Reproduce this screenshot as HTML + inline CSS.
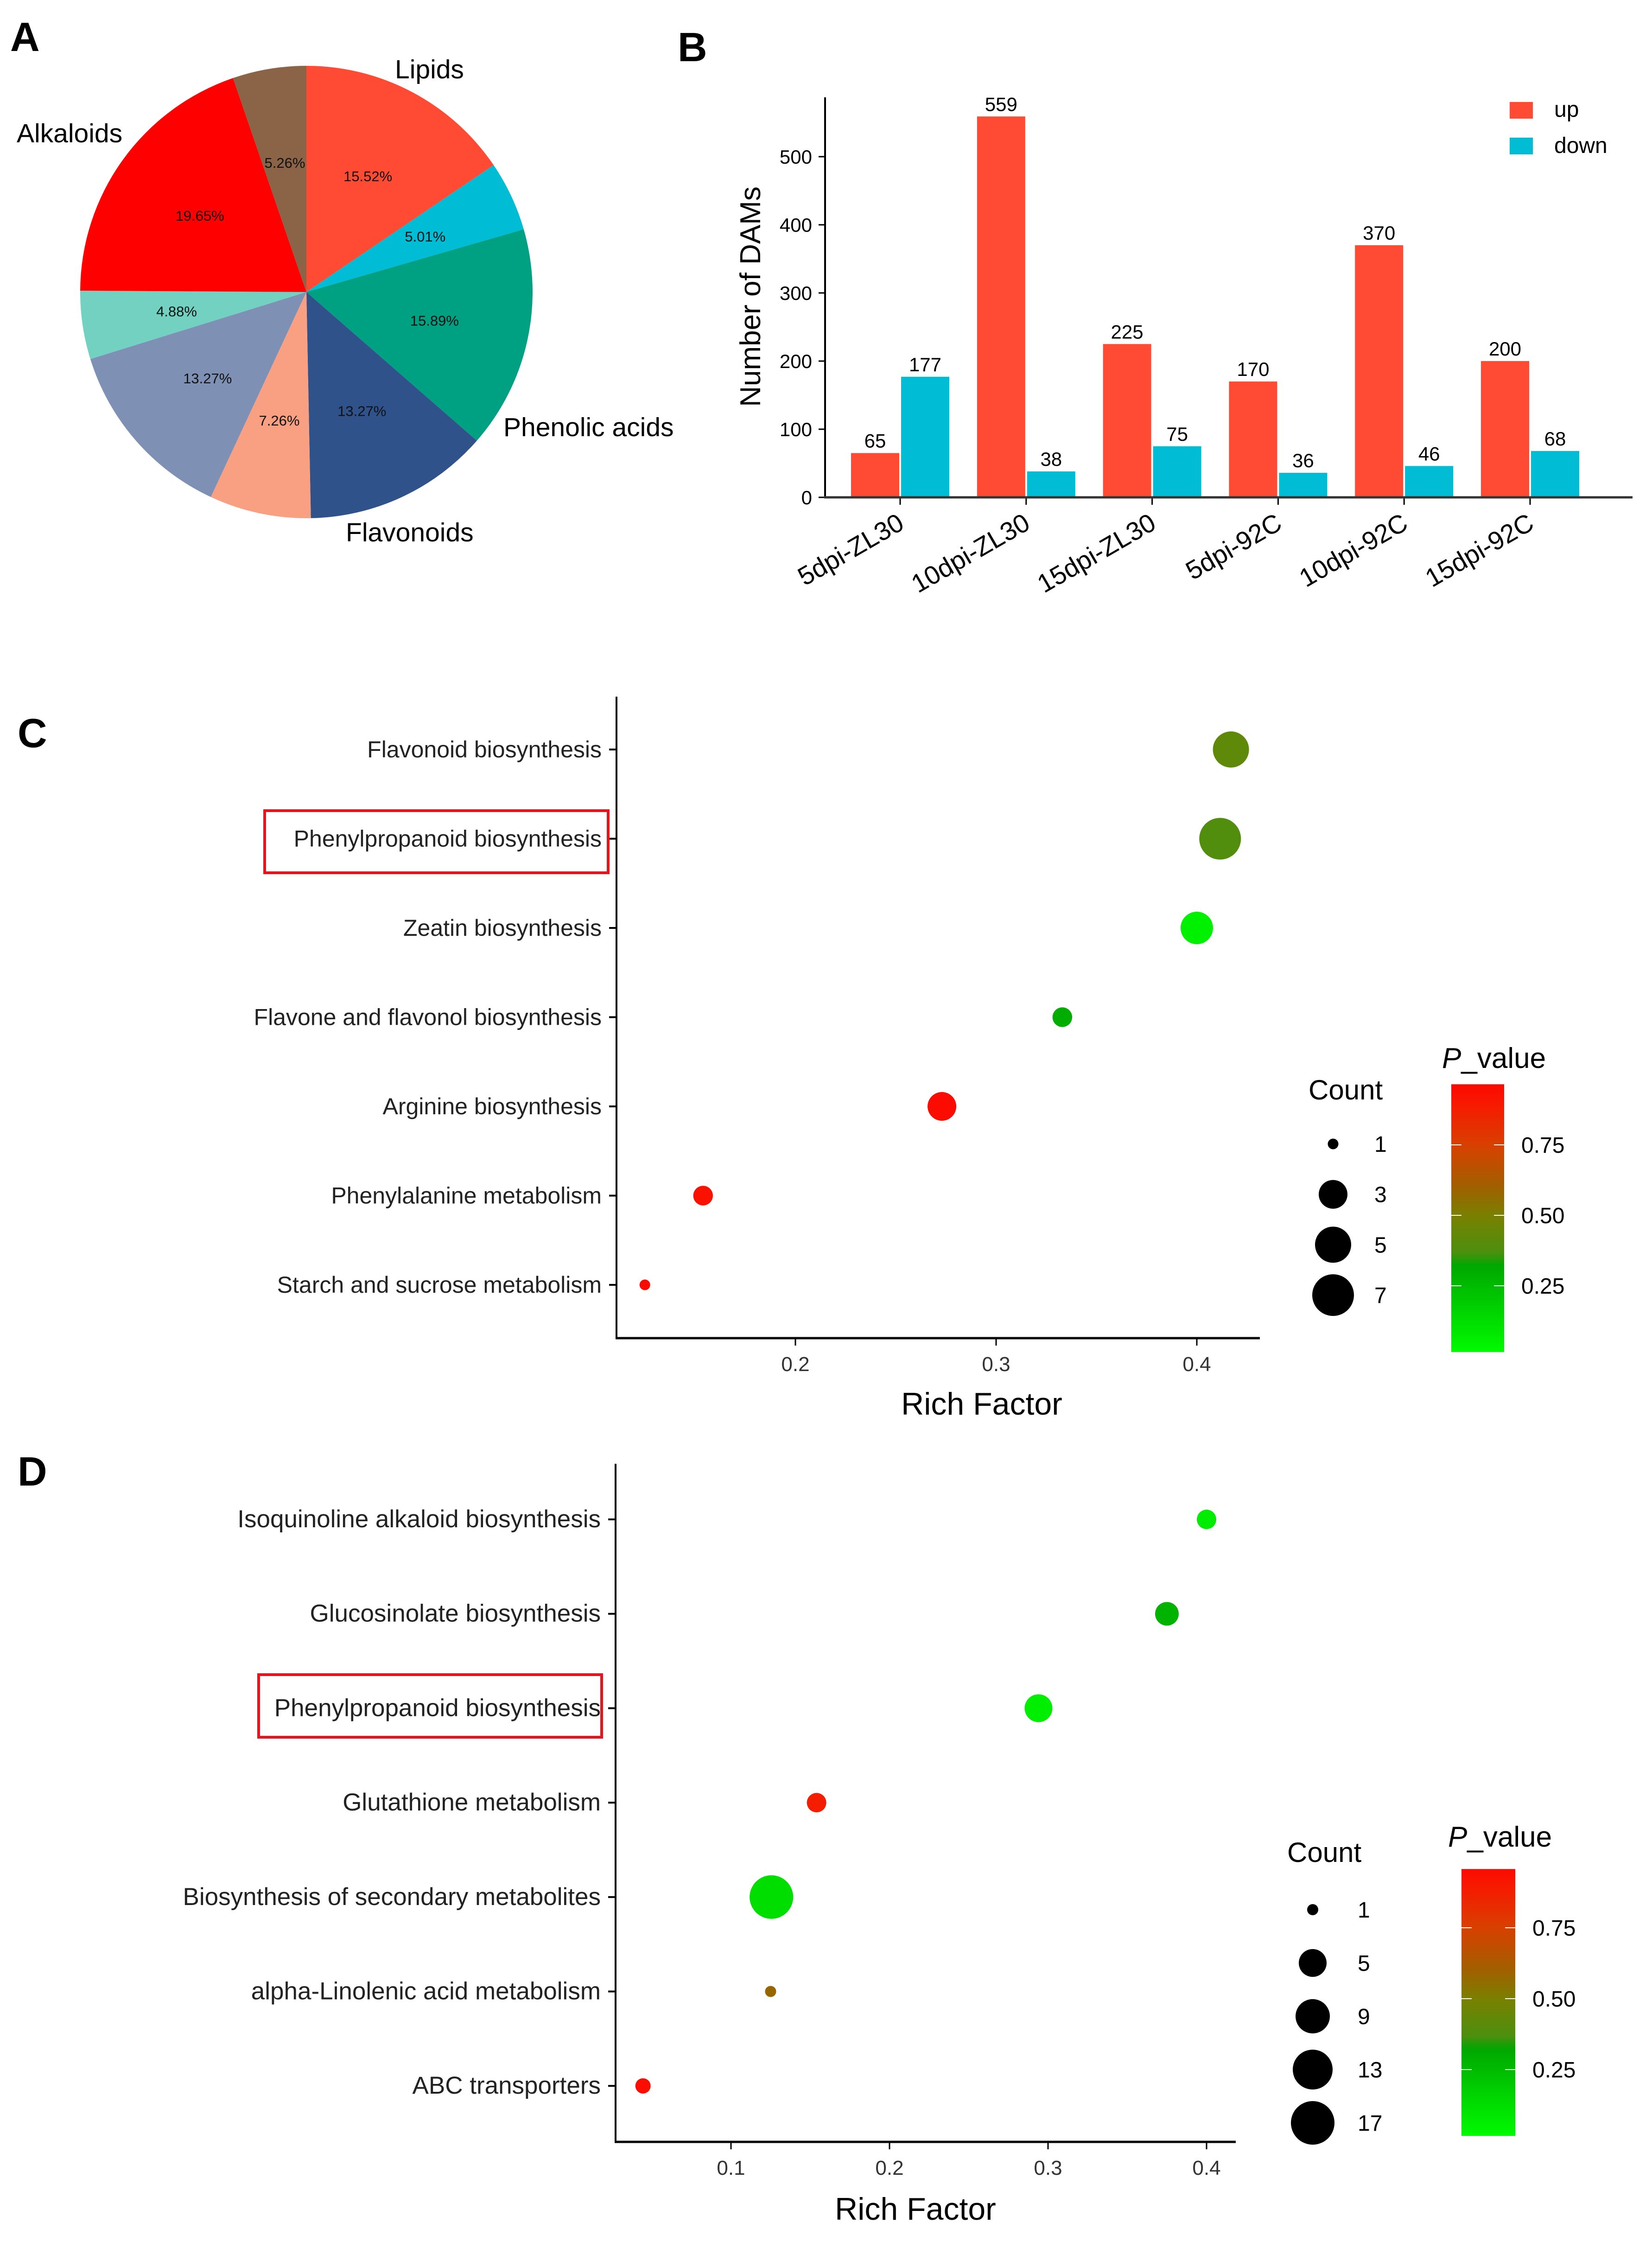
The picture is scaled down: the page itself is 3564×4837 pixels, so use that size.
<!DOCTYPE html>
<html><head><meta charset="utf-8">
<style>
html,body{margin:0;padding:0;background:#fff;}
svg{display:block;font-family:"Liberation Sans",sans-serif;}
</style></head>
<body>
<svg id="fig" xmlns="http://www.w3.org/2000/svg" width="3564" height="4837" viewBox="0 0 3564 4837">
<rect x="0" y="0" width="3564" height="4837" fill="#fff"/>
<defs>
<linearGradient id="pgradC" x1="0" y1="1" x2="0" y2="0"></linearGradient>
<linearGradient id="pgradD" x1="0" y1="1" x2="0" y2="0"></linearGradient>
</defs>
<g id="panelA"></g>
<g id="panelB"></g>
<g id="panelC"></g>
<g id="panelD"></g>
</svg>
<script>
// ---------- data ----------
const pieValues = [15.52, 5.01, 15.89, 13.27, 7.26, 13.27, 4.88, 19.65, 5.26];
const pieLabels = ["15.52%", "5.01%", "15.89%", "13.27%", "7.26%", "13.27%", "4.88%", "19.65%", "5.26%"];
const pieColors = ["#FF4B33", "#00BCD4", "#00A083", "#30528A", "#F9A083", "#7F90B5", "#72D1C1", "#FF0000", "#8B6346"];

const barCategories = ["5dpi-ZL30", "10dpi-ZL30", "15dpi-ZL30", "5dpi-92C", "10dpi-92C", "15dpi-92C"];
const barUp = [65, 559, 225, 170, 370, 200];
const barDown = [177, 38, 75, 36, 46, 68];
const barYTicks = [0, 100, 200, 300, 400, 500];

const cPathways = ["Flavonoid biosynthesis", "Phenylpropanoid biosynthesis", "Zeatin biosynthesis", "Flavone and flavonol biosynthesis", "Arginine biosynthesis", "Phenylalanine metabolism", "Starch and sucrose metabolism"];
const cRich = [0.417, 0.4116, 0.400, 0.333, 0.273, 0.154, 0.125];
const cCount = [5, 7, 4, 2, 3, 2, 1];
const cPval = [0.42, 0.38, 0.05, 0.30, 0.95, 0.93, 0.96];
const cXTicks = [0.2, 0.3, 0.4];
const cSizeLegend = [1, 3, 5, 7];
const cSizeRadii = [11.5, 31, 39, 45];

const dPathways = ["Isoquinoline alkaloid biosynthesis", "Glucosinolate biosynthesis", "Phenylpropanoid biosynthesis", "Glutathione metabolism", "Biosynthesis of secondary metabolites", "alpha-Linolenic acid metabolism", "ABC transporters"];
const dRich = [0.400, 0.375, 0.294, 0.154, 0.1255, 0.125, 0.0445];
const dCount = [3, 4, 5, 3, 17, 1, 2];
const dPval = [0.07, 0.28, 0.06, 0.88, 0.12, 0.58, 0.94];
const dXTicks = [0.1, 0.2, 0.3, 0.4];
const dSizeLegend = [1, 5, 9, 13, 17];
const dSizeRadii = [12, 30, 37, 43, 47];

const pTicks = [0.25, 0.50, 0.75];
const pTickLabels = ["0.25", "0.50", "0.75"];

// ---------- helpers ----------
const NS = "http://www.w3.org/2000/svg";
function mk(tag, attrs, parent) {
  const e = document.createElementNS(NS, tag);
  for (const k in attrs) e.setAttribute(k, attrs[k]);
  parent.appendChild(e);
  return e;
}
function txt(s, attrs, parent) { const t = mk("text", attrs, parent); t.textContent = s; return t; }

const colorStops = [[0.0,[0,255,0]],[0.33,[0,165,0]],[0.36,[74,144,16]],[0.5,[122,128,0]],[0.6,[160,96,0]],[0.75,[216,64,0]],[0.9,[248,24,0]],[1.0,[255,0,0]]];
function pColor(p) {
  for (let i = 1; i < colorStops.length; i++) {
    if (p <= colorStops[i][0]) {
      const a = colorStops[i-1], b = colorStops[i];
      const t = (p - a[0]) / (b[0] - a[0]);
      const c = a[1].map((v, j) => Math.round(v + (b[1][j] - v) * t));
      return "rgb(" + c.join(",") + ")";
    }
  }
  return "rgb(255,0,0)";
}
function sizeFn(legend, radii) {
  return function (c) {
    if (c <= legend[0]) return radii[0];
    for (let i = 1; i < legend.length; i++) {
      if (c <= legend[i]) return radii[i-1] + (radii[i]-radii[i-1]) * (c - legend[i-1]) / (legend[i]-legend[i-1]);
    }
    return radii[radii.length-1];
  };
}

// ---------- Panel A ----------
(function () {
  const g = document.getElementById("panelA");
  const L = txt("A", {x: 22, y: 110, "font-size": 88, "font-weight": "bold"}, g);
  
  
  const cx = 661, cy = 630, r = 488;
  const total = pieValues.reduce((a, b) => a + b, 0);
  let acc = 0;
  pieValues.forEach((v, i) => {
    const a0 = acc / total * 2 * Math.PI, a1 = (acc + v) / total * 2 * Math.PI;
    acc += v;
    const x0 = cx + r * Math.sin(a0), y0 = cy - r * Math.cos(a0);
    const x1 = cx + r * Math.sin(a1), y1 = cy - r * Math.cos(a1);
    const large = (a1 - a0) > Math.PI ? 1 : 0;
    const p = mk("path", {d: `M${cx},${cy} L${x0},${y0} A${r},${r} 0 ${large} 1 ${x1},${y1} Z`, fill: pieColors[i]}, g);
    
    
    const am = (a0 + a1) / 2, lr = r * 0.58;
    const t = txt(pieLabels[i], {x: cx + lr * Math.sin(am), y: cy - lr * Math.cos(am) + 11, "font-size": 31, "text-anchor": "middle", fill: "#111"}, g);
    
    
  });
  const cats = [["Alkaloids", 36, 307], ["Lipids", 852, 169], ["Phenolic acids", 1086, 941], ["Flavonoids", 746, 1168]];
  cats.forEach(c => {
    const t = txt(c[0], {x: c[1], y: c[2], "font-size": 57}, g);
    
    
  });
})();

// ---------- Panel B ----------
(function () {
  const g = document.getElementById("panelB");
  const L = txt("B", {x: 1462, y: 132, "font-size": 88, "font-weight": "bold"}, g);
  
  
  const x0 = 1780, yBase = 1073, pxPerUnit = 1.47;
  const y = v => yBase - v * pxPerUnit;
  const xc = i => 1942 + i * 271.8;
  const bw = 104;
  const ax = mk("line", {x1: x0, y1: 210, x2: x0, y2: yBase + 2, stroke: "#000", "stroke-width": 4}, g);
  
  
  barYTicks.forEach(v => {
    const tl = mk("line", {x1: x0 - 14, y1: y(v), x2: x0, y2: y(v), stroke: "#000", "stroke-width": 3}, g);
    
    
    const t = txt(String(v), {x: x0 - 28, y: y(v) + 15, "font-size": 42, "text-anchor": "end"}, g);
    
    
  });
  const yt = txt("Number of DAMs", {x: 0, y: 0, "font-size": 62, "text-anchor": "middle", transform: `translate(1640,640) rotate(-90)`}, g);
  
  
  barCategories.forEach((c, i) => {
    const ru = mk("rect", {x: xc(i) - 2 - bw, y: y(barUp[i]), width: bw, height: barUp[i] * pxPerUnit, fill: "#FF4B33"}, g);
    
    
    const rd = mk("rect", {x: xc(i) + 2, y: y(barDown[i]), width: bw, height: barDown[i] * pxPerUnit, fill: "#00BCD4"}, g);
    
    
    const tu = txt(String(barUp[i]), {x: xc(i) - 2 - bw / 2, y: y(barUp[i]) - 12, "font-size": 42, "text-anchor": "middle"}, g);
    
    
    const td = txt(String(barDown[i]), {x: xc(i) + 2 + bw / 2, y: y(barDown[i]) - 12, "font-size": 42, "text-anchor": "middle"}, g);
    
    
    const tk = mk("line", {x1: xc(i), y1: yBase, x2: xc(i), y2: yBase + 16, stroke: "#000", "stroke-width": 3}, g);
    
    
    const cl = txt(c, {x: 0, y: 0, "font-size": 56, "text-anchor": "end", transform: `translate(${xc(i) + 12},${yBase + 66}) rotate(-30)`}, g);
    
    
  });
  const xa = mk("line", {x1: x0 - 2, y1: yBase, x2: 3522, y2: yBase, stroke: "#333", "stroke-width": 5}, g);
  
  
  const lu = mk("rect", {x: 3257, y: 220, width: 50, height: 36, fill: "#FF4B33"}, g);
  
  
  const lut = txt("up", {x: 3353, y: 252, "font-size": 48}, g);
  
  
  const ld = mk("rect", {x: 3257, y: 297, width: 50, height: 36, fill: "#00BCD4"}, g);
  
  
  const ldt = txt("down", {x: 3353, y: 330, "font-size": 48}, g);
  
  
})();

// ---------- Bubble panels ----------
function bubblePanel(cfg) {
  const g = document.getElementById(cfg.id);
  const L = txt(cfg.letter, {x: 38, y: cfg.letterY, "font-size": 88, "font-weight": "bold"}, g);
  
  
  const xs = v => cfg.xRef + (v - cfg.vRef) * cfg.pxPerUnit;
  const ys = i => cfg.row0 + i * cfg.rowStep;
  const rad = sizeFn(cfg.sizeLegend, cfg.sizeRadii);
  const ya = mk("line", {x1: cfg.axX, y1: cfg.top, x2: cfg.axX, y2: cfg.bottom + 2, stroke: "#000", "stroke-width": 4}, g);
  
  
  const xa = mk("line", {x1: cfg.axX - 2, y1: cfg.bottom, x2: cfg.right, y2: cfg.bottom, stroke: "#000", "stroke-width": 5}, g);
  
  
  cfg.pathways.forEach((p, i) => {
    const tk = mk("line", {x1: cfg.axX - 16, y1: ys(i), x2: cfg.axX, y2: ys(i), stroke: "#000", "stroke-width": 4}, g);
    
    
    const t = txt(p, {x: cfg.axX - 32, y: ys(i) + 17, "font-size": cfg.labelSize, "text-anchor": "end", fill: "#222"}, g);
    
    
    const c = mk("circle", {cx: xs(cfg.rich[i]), cy: ys(i), r: rad(cfg.count[i]), fill: pColor(cfg.pval[i])}, g);
    
    
  });
  const box = mk("rect", {x: cfg.box[0], y: cfg.box[1], width: cfg.box[2], height: cfg.box[3], fill: "none", stroke: "#E8141B", "stroke-width": 6}, g);
  
  
  cfg.xTicks.forEach(v => {
    const tk = mk("line", {x1: xs(v), y1: cfg.bottom, x2: xs(v), y2: cfg.bottom + 16, stroke: "#000", "stroke-width": 3}, g);
    
    
    const t = txt(v.toFixed(1), {x: xs(v), y: cfg.tickLabelY, "font-size": 44, "text-anchor": "middle", fill: "#333"}, g);
    
    
  });
  const xt = txt("Rich Factor", {x: cfg.titleX, y: cfg.titleY, "font-size": 68, "text-anchor": "middle"}, g);
  
  
  const lt = txt("Count", {x: cfg.countX, y: cfg.countY, "font-size": 60}, g);
  
  
  cfg.sizeLegend.forEach((s, i) => {
    const cy = cfg.sizeRow0 + i * cfg.sizeRowStep;
    const c = mk("circle", {cx: cfg.sizeDotX, cy: cy, r: rad(s), fill: "#000"}, g);
    
    
    const t = txt(String(s), {x: cfg.sizeLabelX, y: cy + 17, "font-size": 48}, g);
    
    
  });
  const grad = document.getElementById(cfg.gradId);
  const pBot = cfg.pBottom, pTop = cfg.pTop;
  for (let k = 0; k <= 40; k++) {
    const p = pBot + (pTop - pBot) * k / 40;
    mk("stop", {offset: (k / 40), "stop-color": pColor(p)}, grad);
  }
  const ypx = p => cfg.cb75 - (p - 0.75) * cfg.cbPx;
  const cbTop = ypx(pTop), cbBot = ypx(pBot);
  const pt = txt("", {x: cfg.pTitleX, y: cfg.pTitleY, "font-size": 62}, g);
  const ts1 = mk("tspan", {"font-style": "italic"}, pt); ts1.textContent = "P";
  const ts2 = mk("tspan", {}, pt); ts2.textContent = "_value";
  
  
  const cb = mk("rect", {x: cfg.cbX, y: cbTop, width: cfg.cbW, height: cbBot - cbTop, fill: `url(#${cfg.gradId})`}, g);
  
  
  pTicks.forEach((p, i) => {
    const yy = ypx(p);
    mk("line", {x1: cfg.cbX, y1: yy, x2: cfg.cbX + 22, y2: yy, stroke: "#fff", "stroke-width": 2}, g);
    mk("line", {x1: cfg.cbX + cfg.cbW - 22, y1: yy, x2: cfg.cbX + cfg.cbW, y2: yy, stroke: "#fff", "stroke-width": 2}, g);
    const t = txt(pTickLabels[i], {x: cfg.cbLabelX, y: yy + 17, "font-size": 48}, g);
    
    
  });
}

bubblePanel({
  id: "panelC", letter: "C", letterY: 1612, labelSize: 50,
  pathways: cPathways, rich: cRich, count: cCount, pval: cPval, xTicks: cXTicks,
  sizeLegend: cSizeLegend, sizeRadii: cSizeRadii,
  axX: 1330, top: 1503, bottom: 2887, right: 2718,
  xRef: 1716, vRef: 0.2, pxPerUnit: 4330,
  row0: 1617, rowStep: 192.5,
  box: [571, 1749, 741, 134],
  tickLabelY: 2958, titleX: 2118, titleY: 3052,
  countX: 2823, countY: 2372, sizeDotX: 2876, sizeRow0: 2468, sizeRowStep: 108.7, sizeLabelX: 2965,
  gradId: "pgradC", pBottom: 0.015, pTop: 0.965, cb75: 2470, cbPx: 608, cbX: 3131, cbW: 114, cbLabelX: 3282,
  pTitleX: 3111, pTitleY: 2304
});

bubblePanel({
  id: "panelD", letter: "D", letterY: 3205, labelSize: 53,
  pathways: dPathways, rich: dRich, count: dCount, pval: dPval, xTicks: dXTicks,
  sizeLegend: dSizeLegend, sizeRadii: dSizeRadii,
  axX: 1328, top: 3158, bottom: 4621, right: 2666,
  xRef: 1577, vRef: 0.1, pxPerUnit: 3420,
  row0: 3278, rowStep: 203.7,
  box: [558, 3613, 740, 135],
  tickLabelY: 4692, titleX: 1975, titleY: 4789,
  countX: 2777, countY: 4017, sizeDotX: 2832, sizeRow0: 4120, sizeRowStep: 115, sizeLabelX: 2929,
  gradId: "pgradD", pBottom: 0.016, pTop: 0.957, cb75: 4159, cbPx: 612, cbX: 3153, cbW: 116, cbLabelX: 3306,
  pTitleX: 3124, pTitleY: 3984
});
</script>
</body></html>
